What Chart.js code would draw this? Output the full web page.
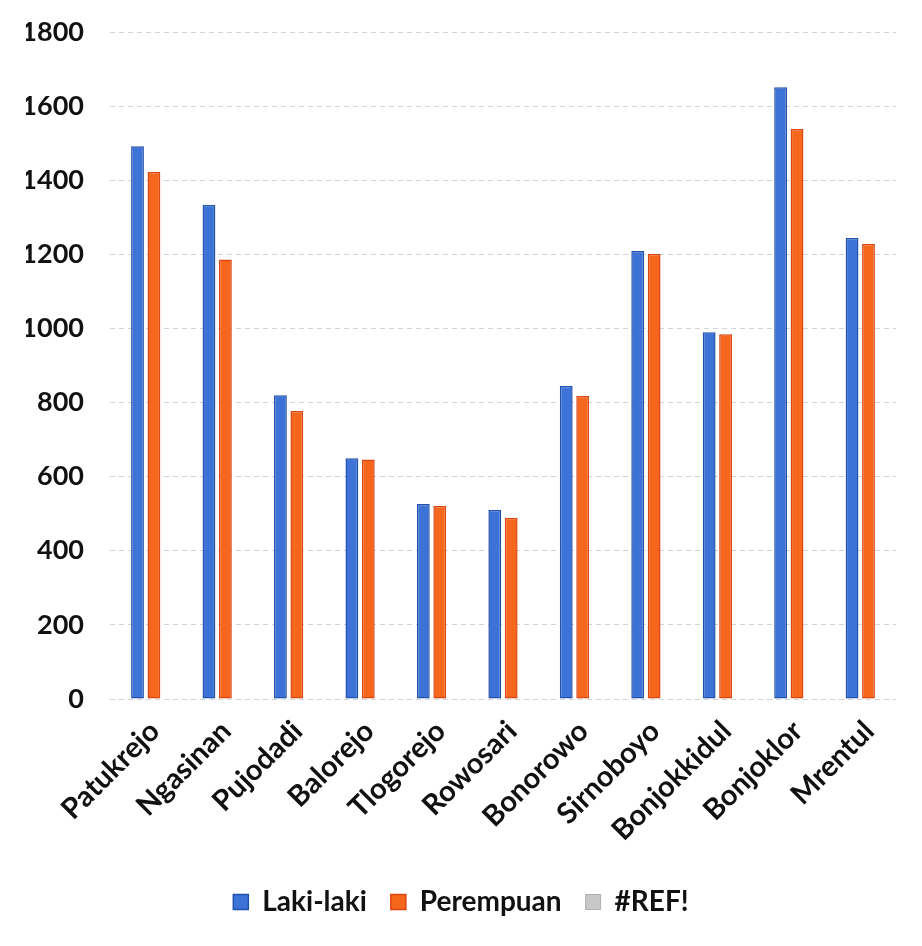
<!DOCTYPE html>
<html>
<head>
<meta charset="utf-8">
<script src="https://cdn.jsdelivr.net/npm/chart.js@4.4.1/dist/chart.umd.min.js"></script>
<style>
html,body{margin:0;padding:0;background:#fff;}
#wrap{width:922px;height:946px;}
</style>
</head>
<body>
<div id="wrap"><canvas id="c" width="922" height="946"></canvas></div>
<script>
const categories = ["Patukrejo","Ngasinan","Pujodadi","Balorejo","Tlogorejo","Rowosari","Bonorowo","Sirnoboyo","Bonjokkidul","Bonjoklor","Mrentul"];
const lakiLaki = [1492, 1333, 820, 650, 526, 510, 845, 1209, 990, 1651, 1244];
const perempuan = [1422, 1186, 777, 646, 521, 489, 818, 1201, 984, 1538, 1228];
const seriesNames = ["Laki-laki", "Perempuan", "#REF!"];
const yTicks = [0, 200, 400, 600, 800, 1000, 1200, 1400, 1600, 1800];

const FONT = "Lato, 'Open Sans', sans-serif";
const BLUE = "#3d72d6", BLUE_B = "#2151ab";
const ORANGE = "#f6661c", ORANGE_B = "#dc4410";

new Chart(document.getElementById('c'), {
  type: 'bar',
  data: {
    labels: categories,
    datasets: [
      {label: seriesNames[0], data: lakiLaki, backgroundColor: BLUE, borderColor: BLUE_B, borderWidth: 1.5, borderSkipped: false, categoryPercentage: 0.46, barPercentage: 0.78},
      {label: seriesNames[1], data: perempuan, backgroundColor: ORANGE, borderColor: ORANGE_B, borderWidth: 1.5, borderSkipped: false, categoryPercentage: 0.46, barPercentage: 0.78}
    ]
  },
  options: {
    responsive: false,
    animation: false,
    devicePixelRatio: 1,
    layout: {padding: {left: 26, right: 26, top: 32, bottom: 20}},
    plugins: {
      tooltip: {enabled: false},
      legend: {
        position: 'bottom',
        labels: {
          font: {family: FONT, size: 28, weight: 'bold'},
          color: '#111',
          boxWidth: 15, boxHeight: 15,
          padding: 24,
          generateLabels: function(chart) {
            const items = Chart.defaults.plugins.legend.labels.generateLabels(chart);
            items.forEach(it => { it.lineWidth = 1.5; });
            items.push({text: seriesNames[2], fillStyle: '#c8c8c8', strokeStyle: '#b0b0b0', lineWidth: 1, hidden: false, datasetIndex: 2, fontColor: '#111'});
            return items;
          }
        }
      }
    },
    scales: {
      x: {
        grid: {display: false, drawTicks: false},
        border: {display: false},
        ticks: {
          font: {family: FONT, size: 29, weight: 'bold'},
          color: '#111',
          maxRotation: 45, minRotation: 45,
          autoSkip: false,
          padding: 15,
          labelOffset: 9
        },
        afterFit: function(s) { s.height = 165; s.paddingLeft = 0; }
      },
      y: {
        min: 0, max: 1800,
        afterBuildTicks: function(s) { s.ticks = yTicks.map(v => ({value: v})); },
        grid: {color: '#d4d4d4', lineWidth: 1, drawTicks: false},
        border: {display: false, dash: [5, 4]},
        ticks: {
          font: {family: FONT, size: 27, weight: 'bold'},
          color: '#111',
          padding: 26,
          callback: function(v) { return String(v); }
        },
        afterFit: function(s) { s.width = 84; s.paddingTop = 0; s.paddingBottom = 0; }
      }
    }
  }
});
</script>
</body>
</html>
